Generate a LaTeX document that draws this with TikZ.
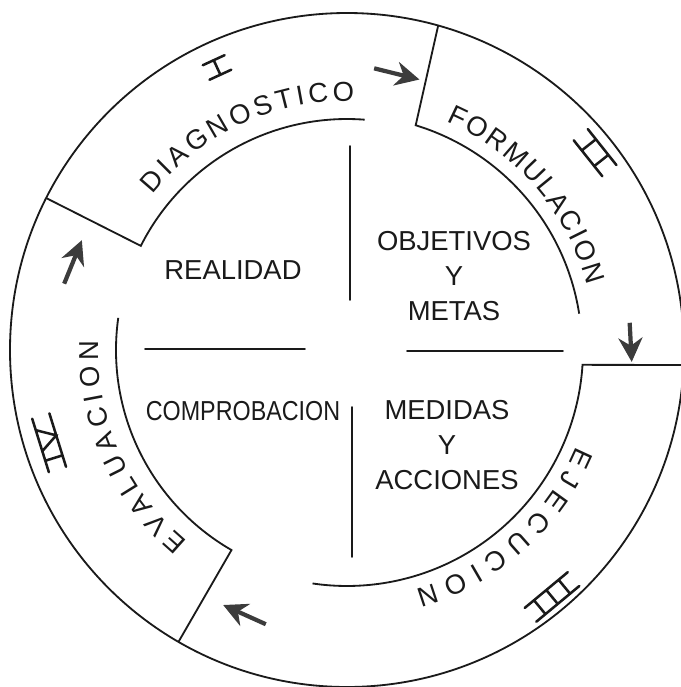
\documentclass[tikz,border=0pt]{standalone}
\usepackage{fontspec}
\setmainfont{Liberation Sans}
\newfontfamily\narrowfont[FakeStretch=0.85]{Liberation Sans}
\usepackage{tikz}
\usetikzlibrary{arrows.meta}
\definecolor{ink}{HTML}{1A1A1A}
\tikzset{
  rim/.style={line width=1.3pt,draw=ink},
  divider/.style={line width=1.3pt,draw=ink,line cap=round},
  flow/.style={-{Stealth[length=6mm,width=6mm]},line width=3pt,draw=ink!85},
  numeral/.style={line width=1.8pt,draw=ink,line cap=round},
}

\begin{document}
\begin{tikzpicture}[x=0.025cm,y=0.025cm,
  field/.style={font=\fontsize{19.5}{25}\selectfont,text=ink,align=center,inner sep=0pt},
  letter/.style={font=\fontsize{19.5}{23}\selectfont,text=ink,inner sep=0pt,anchor=base}]

  \useasboundingbox (-347,-337) rectangle (334,350);

  % outer ring
  \draw[rim] (0,0) circle[radius=337];

  % the four stages
  \draw[rim] (153.2:337) -- (153.2:231) arc[start angle=153.2,end angle=85.6,radius=231];
  \draw[rim] (74.3:337) -- (73:235) arc[start angle=73,end angle=8.9,radius=235];
  \draw[rim] (336.6,-15) -- (-3.6:236) arc[start angle=-3.6,end angle=-98.4,radius=236];
  \draw[rim] (240:337) -- (240:231) arc[start angle=240,end angle=172,radius=231];

  % cross in the middle
  \draw[divider] (3,204) -- (3,50);
  \draw[divider] (-202,1) -- (-42,1);
  \draw[divider] (60,-1) -- (216,-1);
  \draw[divider] (5,-57) -- (5,-207);

  \node[field] (reality) at (-114,80) {REALIDAD};
  \node[field] (goals)   at (107,74)  {OBJETIVOS\\Y\\METAS};
  \node[field] (check)   at (-104,-61) {\narrowfont COMPROBACION};
  \node[field] (actions) at (100,-95) {MEDIDAS\\Y\\ACCIONES};

  % stage names round the ring
  \foreach \a/\ch [count=\i] in {139/D,134.95/I,131.07/A,125.65/G,120.06/N,114.47/O,
      109.05/S,104.15/T,100.45/I,96.4/C,90.81/O}
    \node[letter,rotate=\a-90] (diag-\i) at (\a:249) {\ch};
  \foreach \a/\ch [count=\i] in {64.5/F,59.65/O,54.46/R,49.1/M,43.74/U,39.24/L,
      34.91/A,30.06/C,26.42/I,22.6/O,17.41/N}
    \node[letter,rotate=\a-90] (form-\i) at (\a:249) {\ch};
  \foreach \a/\ch [count=\i] in {-24.8/E,-30.33/J,-35.86/E,-42.08/C,-48.47/U,
      -54.86/C,-59.87/I,-65.06/O,-71.62/N}
    \node[letter,rotate=\a-90] (ejec-\i) at (\a:249) {\ch};
  \foreach \a/\ch [count=\i] in {228.1/E,222.59/V,217.08/A,211.91/L,206.57/U,
      200.89/A,195.21/C,190.73/I,186.07/O,180.04/N}
    \node[letter,rotate=\a-90] (eval-\i) at (\a:249) {\ch};

  % roman numerals
  \begin{scope}[shift={(114.7:311)},rotate=24.7]
    \draw[numeral] (-12,8) -- (12,8) (-12,-8) -- (12,-8) (0,8) -- (0,-8);
  \end{scope}
  \begin{scope}[shift={(38.5:317)},rotate=-51.5]
    \draw[numeral] (-23,9) -- (23,9) (-23,-9) -- (23,-9)
      (-10,9) -- (-10,-9) (10,9) -- (10,-9);
  \end{scope}
  \begin{scope}[shift={(-50.3:321)},rotate=-140.3]
    \draw[numeral] (-28,9) -- (28,9) (-28,-9) -- (28,-9)
      (-16,9) -- (-16,-9) (0,9) -- (0,-9) (16,9) -- (16,-9);
  \end{scope}
  \begin{scope}[shift={(197.3:312)},rotate=107.3]
    \draw[numeral] (-28,9) -- (28,9) (-28,-9) -- (28,-9)
      (-16,9) -- (-16,-9) (-6,9) -- (5,-9) -- (16,9);
  \end{scope}

  % arrows between stages
  \coordinate (t1) at (84.5:283);   \coordinate (h1) at (75:280);
  \coordinate (t2) at (5.5:284);    \coordinate (h2) at (-2.4:285);
  \coordinate (t3) at (253.5:286);  \coordinate (h3) at (244.1:283.5);
  \coordinate (t4) at (166.8:290.5);\coordinate (h4) at (157.5:287);
  \draw[flow] (t1) -- (h1);
  \draw[flow] (t2) -- (h2);
  \draw[flow] (t3) -- (h3);
  \draw[flow] (t4) -- (h4);
\end{tikzpicture}
\end{document}
